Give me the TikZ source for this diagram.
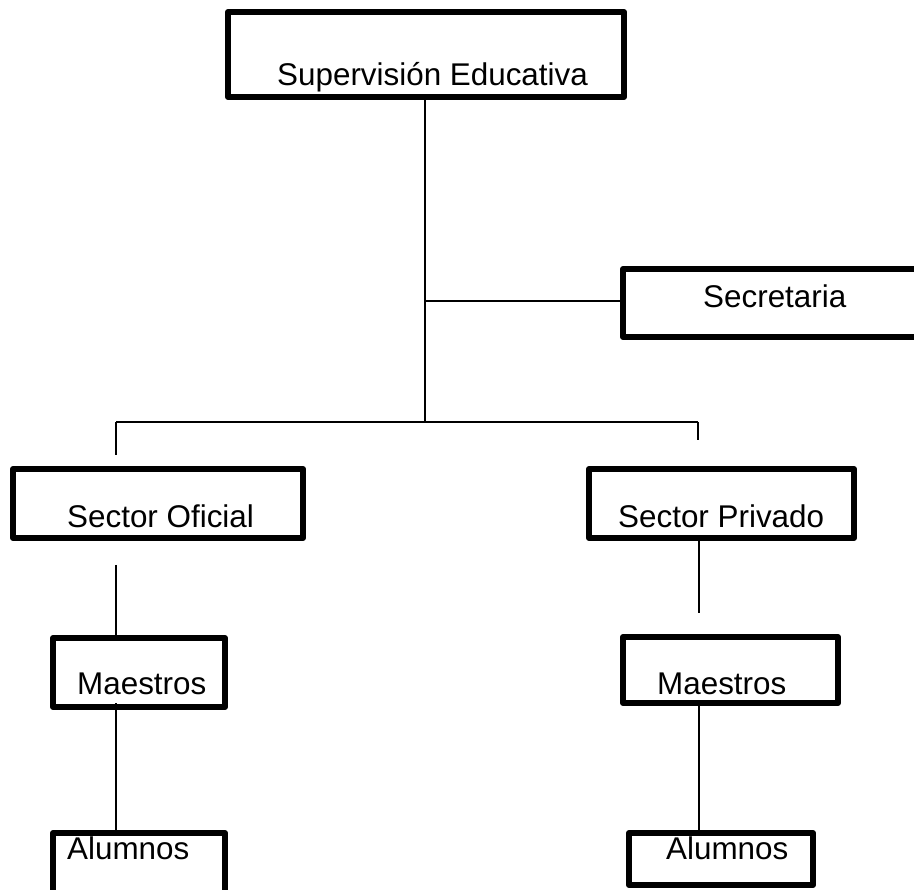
\documentclass[tikz,border=0pt]{standalone}
\usepackage{fontspec}
\setmainfont{Liberation Sans}
\begin{document}
\begin{tikzpicture}[x=1pt,y=-1pt,
  bx/.style={draw=black,line width=6pt,line join=round,rectangle,inner sep=0pt,outer sep=0pt},
  lbl/.style={anchor=base west,inner sep=0pt,font=\fontsize{31.4}{36}\selectfont},
  ln/.style={draw=black,line width=1.6pt}]
\useasboundingbox (0,0) rectangle (914,890);
\clip (0,0) rectangle (914,890);
% boxes
\node[bx,minimum width=396pt,minimum height=85pt] (sup) at (426,54.5) {};
\node[bx,minimum width=307pt,minimum height=68pt] (sec) at (776.5,303) {};
\node[bx,minimum width=290pt,minimum height=69pt] (so) at (158,503.5) {};
\node[bx,minimum width=265pt,minimum height=69pt] (sp) at (721.5,503.5) {};
\node[bx,minimum width=172pt,minimum height=69pt] (m1) at (139,672.5) {};
\node[bx,minimum width=215pt,minimum height=66pt] (m2) at (730.5,670) {};
\node[bx,minimum width=172pt,minimum height=77pt] (a1) at (139,871.5) {};
\node[bx,minimum width=184pt,minimum height=52pt] (a2) at (721,859) {};
% labels
\node[lbl] (tsup) at (277,86) {Supervisión Educativa};
\node[lbl] (tsec) at (703,308) {Secretaria};
\node[lbl] (tso) at (67,528) {Sector Oficial};
\node[lbl] (tsp) at (618,528) {Sector Privado};
\node[lbl] (tm1) at (77,694) {Maestros};
\node[lbl] (tm2) at (657,694) {Maestros};
\node[lbl] (ta1) at (67,859) {Alumnos};
\node[lbl] (ta2) at (666,859) {Alumnos};
% coordinates
\coordinate (j) at (425,422);
\coordinate (js) at (425,301);
\coordinate (cl) at (116,422);
\coordinate (cr) at (698,422);
\coordinate (tl) at (116,455);
\coordinate (tr) at (698,440);
\coordinate (sol) at (116,565);
\coordinate (spx) at (699,538);
\coordinate (spl) at (699,613);
\coordinate (m1x) at (116,703);
\coordinate (m2x) at (699,700);
% connectors
\draw[ln] (sup.south -| j) -- (j);
\draw[ln] (js) -- (sec.west |- js);
\draw[ln] (cl) -- (cr);
\draw[ln] (cl) -- (tl);
\draw[ln] (cr) -- (tr);
\draw[ln] (sol) -- (m1.north -| sol);
\draw[ln] (spx) -- (spl);
\draw[ln] (m1x) -- (a1.north -| m1x);
\draw[ln] (m2x) -- (a2.north -| m2x);
\end{tikzpicture}
\end{document}
